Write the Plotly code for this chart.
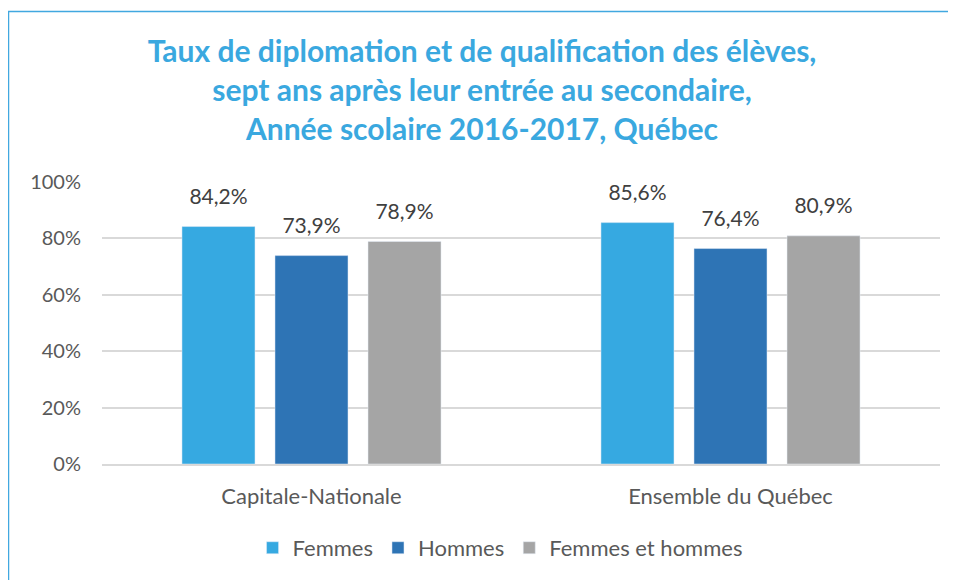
import plotly.graph_objects as go

categories = ["Capitale-Nationale", "Ensemble du Québec"]
series_names = ["Femmes", "Hommes", "Femmes et hommes"]
femmes = [84.2, 85.6]
hommes = [73.9, 76.4]
femmes_hommes = [78.9, 80.9]

COLOURS = ["#36A9E1", "#2E74B5", "#A5A5A5"]
FONT = "Lato"

# page body adds an 8px offset, so the figure is drawn 8px smaller
WIDTH, HEIGHT = 948, 572
L, R, T, B = 94, 16, 174, 115
plot_w = WIDTH - L - R
plot_h = HEIGHT - T - B

fig = go.Figure()
for name, values, colour in zip(series_names, [femmes, hommes, femmes_hommes], COLOURS):
    fig.add_trace(go.Bar(
        x=categories,
        y=values,
        name=name,
        marker_color=colour,
        offsetgroup=name,
    ))
    # value labels, lifted a little above the bars
    fig.add_trace(go.Scatter(
        x=categories,
        y=values,
        mode="markers+text",
        marker=dict(size=26, color="rgba(0,0,0,0)"),
        text=[f"{v:.1f}%".replace(".", ",") for v in values],
        textposition="top center",
        textfont=dict(size=21, color="#404040", family=FONT),
        offsetgroup=name,
        showlegend=False,
        hoverinfo="skip",
        cliponaxis=False,
    ))

# outer frame of the chart
fig.add_shape(
    type="rect", xref="paper", yref="paper",
    x0=(0.5 - L) / plot_w, x1=(960 - L) / plot_w,
    y0=(HEIGHT - B - 600) / plot_h, y1=(HEIGHT - B - 3) / plot_h,
    line=dict(color="#41A8E0", width=1.5), fillcolor="rgba(0,0,0,0)",
    layer="below",
)

fig.update_layout(
    title=dict(
        text="Taux de diplomation et de qualification des élèves,<br>"
             "sept ans après leur entrée au secondaire,<br>"
             "Année scolaire 2016-2017, Québec",
        x=0.5, xanchor="center", y=1 - 54 / HEIGHT, yanchor="middle",
        font=dict(size=30, color="#3AA8DF", family=FONT, weight="bold"),
    ),
    barmode="group",
    scattermode="group",
    bargap=0.334,
    bargroupgap=0.215,
    width=WIDTH,
    height=HEIGHT,
    margin=dict(l=L, r=R, t=T, b=B),
    plot_bgcolor="white",
    paper_bgcolor="white",
    font=dict(family=FONT, color="#595959", size=20),
    legend=dict(
        orientation="h", x=0.475, xanchor="center", y=-0.293, yanchor="middle",
        font=dict(size=22, color="#595959"), itemwidth=30, traceorder="normal",
    ),
    yaxis=dict(
        range=[0, 100], dtick=20, ticksuffix="%",
        showgrid=True, gridcolor="#D9D9D9", gridwidth=1.5,
        zeroline=False, showline=False, ticks="", ticklabelstandoff=20,
        tickfont=dict(size=20, color="#595959"),
    ),
    xaxis=dict(
        showline=True, linecolor="#D9D9D9", linewidth=1.5,
        ticks="", ticklabelstandoff=12, tickfont=dict(size=22, color="#595959"),
    ),
)

fig.write_html("out.html")
